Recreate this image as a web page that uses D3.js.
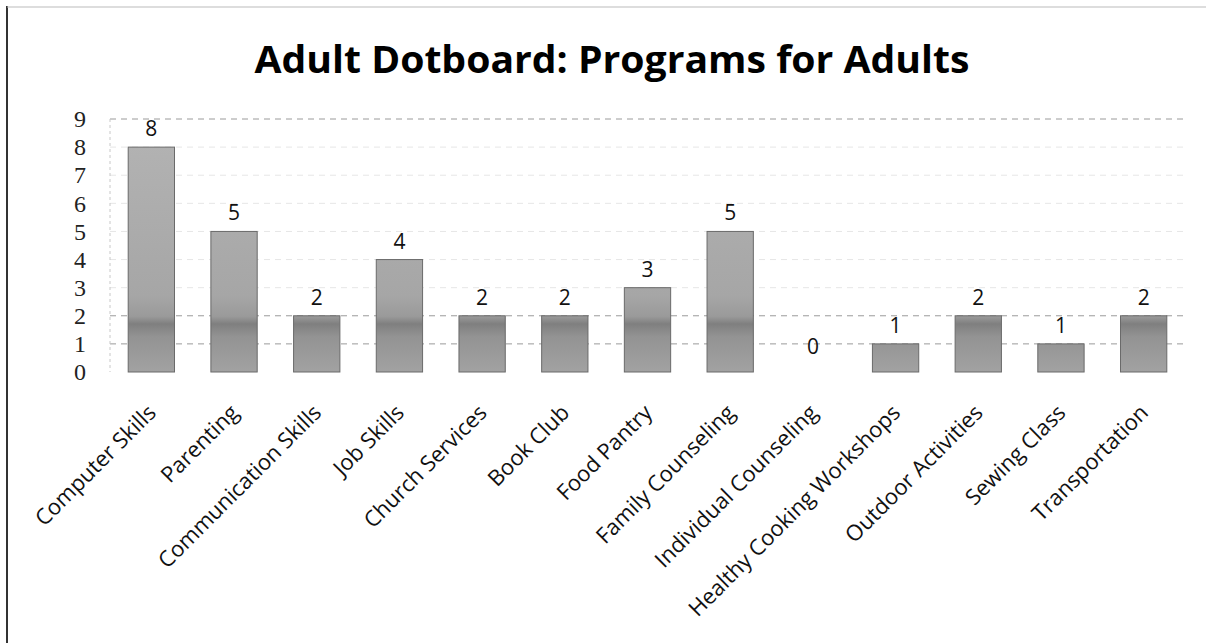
<!DOCTYPE html>
<html>
<head>
<meta charset="utf-8">
<script src="https://cdn.jsdelivr.net/npm/d3@7"></script>
<style>
  body { margin: 0; background: #fff; }
  svg { display: block; }
</style>
</head>
<body>
<div id="chart"></div>
<script>
// chart data
var programs = ["Computer Skills", "Parenting", "Communication Skills", "Job Skills",
                "Church Services", "Book Club", "Food Pantry", "Family Counseling",
                "Individual Counseling", "Healthy Cooking Workshops", "Outdoor Activities",
                "Sewing Class", "Transportation"];
var counts = [8, 5, 2, 4, 2, 2, 3, 5, 0, 1, 2, 1, 2];
var yTicks = [0, 1, 2, 3, 4, 5, 6, 7, 8, 9];
var title = "Adult Dotboard: Programs for Adults";

var w = 1206;
var h = 643;

var data = programs.map(function(p, i) { return {name: p, value: counts[i]}; });

var svg = d3.select("#chart")
            .append("svg")
            .attr("width", w)
            .attr("height", h);

// frame of the scanned chart (left and top edges)
svg.append("line")
   .attr("x1", 7).attr("y1", 6).attr("x2", 7).attr("y2", h)
   .attr("stroke", "#333").attr("stroke-width", 2);
svg.append("line")
   .attr("x1", 7).attr("y1", 7).attr("x2", w).attr("y2", 7)
   .attr("stroke", "#bbb").attr("stroke-width", 1);

// scales
var xScale = d3.scaleBand()
               .domain(programs)
               .range([110, 1185])
               .paddingInner(0.44)
               .paddingOuter(0.22);

var yScale = d3.scaleLinear()
               .domain([0, 9])
               .range([372, 119]);

// gradient to mimic the grey bar fill with the darker band low down
var defs = svg.append("defs");
var grad = defs.append("linearGradient")
               .attr("id", "barFill")
               .attr("gradientUnits", "userSpaceOnUse")
               .attr("x1", 0).attr("x2", 0)
               .attr("y1", yScale(9)).attr("y2", yScale(0));
grad.append("stop").attr("offset", "0%").attr("stop-color", "#b4b4b4");
grad.append("stop").attr("offset", "70%").attr("stop-color", "#a6a6a6");
grad.append("stop").attr("offset", "78%").attr("stop-color", "#9a9a9a");
grad.append("stop").attr("offset", "81%").attr("stop-color", "#7f7f7f");
grad.append("stop").attr("offset", "86%").attr("stop-color", "#939393");
grad.append("stop").attr("offset", "100%").attr("stop-color", "#a2a2a2");

// faint dashed gridlines
svg.append("g")
   .selectAll("line")
   .data(yTicks.slice(1))
   .join("line")
   .attr("x1", 110)
   .attr("x2", 1185)
   .attr("y1", d => yScale(d))
   .attr("y2", d => yScale(d))
   .attr("stroke", d => (d === 1 || d === 2 || d === 9) ? "#9a9a9a" : "#e6e6e6")
   .attr("stroke-width", 1)
   .attr("stroke-dasharray", "6,5");

// faint y axis line
svg.append("line")
   .attr("x1", 110).attr("x2", 110)
   .attr("y1", yScale(9)).attr("y2", yScale(0))
   .attr("stroke", "#c8c8c8")
   .attr("stroke-dasharray", "3,3");

// y axis tick labels
var yAxis = d3.axisLeft(yScale)
              .tickValues(yTicks)
              .tickSize(0)
              .tickPadding(0)
              .tickFormat(d3.format("d"));

var yG = svg.append("g")
            .attr("transform", "translate(86, 0)")
            .call(yAxis);
yG.select(".domain").remove();
yG.selectAll("text")
  .attr("font-family", "'Liberation Serif', 'DejaVu Serif', serif")
  .attr("font-size", 24)
  .attr("fill", "#222");

// bars
svg.append("g")
   .selectAll("rect")
   .data(data)
   .join("rect")
   .attr("x", d => xScale(d.name))
   .attr("y", d => yScale(d.value))
   .attr("width", xScale.bandwidth())
   .attr("height", d => yScale(0) - yScale(d.value))
   .attr("fill", "url(#barFill)")
   .attr("stroke", "#6a6a6a")
   .attr("stroke-width", 1);

// value labels
svg.append("g")
   .selectAll("text")
   .data(data)
   .join("text")
   .attr("x", d => xScale(d.name) + xScale.bandwidth() / 2)
   .attr("y", d => yScale(d.value) - (d.value === 0 ? 18 : 11))
   .attr("text-anchor", "middle")
   .attr("font-family", "'Open Sans', sans-serif")
   .attr("font-size", 21)
   .attr("fill", "#111")
   .text(d => d.value);

// x axis labels rotated
var xAxis = d3.axisBottom(xScale).tickSize(0).tickPadding(0);
var xG = svg.append("g")
            .call(xAxis);
xG.select(".domain").remove();
xG.selectAll(".tick text")
  .attr("text-anchor", "end")
  .attr("font-family", "'Open Sans', sans-serif")
  .attr("font-size", 22)
  .attr("fill", "#111")
  .attr("y", 0)
  .attr("dy", 0)
  .attr("transform", "translate(6, 414) rotate(-45)");

// title
svg.append("text")
   .attr("x", 612)
   .attr("y", 73)
   .attr("text-anchor", "middle")
   .attr("font-family", "'Open Sans', sans-serif")
   .attr("font-weight", "bold")
   .attr("font-size", 38)
   .attr("textLength", 715)
   .attr("lengthAdjust", "spacingAndGlyphs")
   .attr("fill", "#000")
   .text(title);
</script>
</body>
</html>
